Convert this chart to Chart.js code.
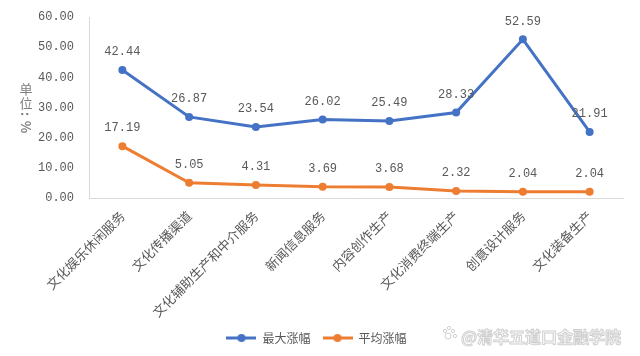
<!DOCTYPE html>
<html><head><meta charset="utf-8">
<script src="https://cdn.jsdelivr.net/npm/chart.js@4"></script>
<style>html,body{margin:0;padding:0;background:#fff}#wrap{width:640px;height:356px}</style>
</head><body><div id="wrap"><canvas id="c" width="640" height="356"></canvas></div>
<script>
const categories = ["文化娱乐休闲服务","文化传播渠道","文化辅助生产和中介服务","新闻信息服务","内容创作生产","文化消费终端生产","创意设计服务","文化装备生产"];
const maxRise = [42.44, 26.87, 23.54, 26.02, 25.49, 28.33, 52.59, 21.91];
const avgRise = [17.19, 5.05, 4.31, 3.69, 3.68, 2.32, 2.04, 2.04];
const seriesNames = ["最大涨幅","平均涨幅"];
const yTicks = [0, 10, 20, 30, 40, 50, 60];

const BLUE = "#4472C4", ORANGE = "#ED7D31", TXT = "#595959";
const NUMFONT = "'Liberation Mono', monospace";
const CJK = "'Noto Sans CJK SC', sans-serif";

function legendIcon(color) {
  const cv = document.createElement('canvas');
  cv.width = 30; cv.height = 10;
  const g = cv.getContext('2d');
  g.strokeStyle = color; g.lineWidth = 3;
  g.beginPath(); g.moveTo(0, 5); g.lineTo(30, 5); g.stroke();
  g.fillStyle = color; g.beginPath(); g.arc(15, 5, 4, 0, Math.PI * 2); g.fill();
  return cv;
}

const labelPlugin = {
  id: 'pointLabels',
  afterDatasetsDraw(chart) {
    const ctx = chart.ctx;
    ctx.save();
    ctx.font = "12px " + NUMFONT;
    ctx.fillStyle = TXT;
    ctx.textAlign = 'center';
    ctx.textBaseline = 'middle';
    chart.data.datasets.forEach((ds, i) => {
      chart.getDatasetMeta(i).data.forEach((pt, j) => {
        ctx.fillText(ds.data[j].toFixed(2), pt.x, pt.y - 18);
      });
    });
    ctx.restore();
  }
};

const extrasPlugin = {
  id: 'extras',
  afterDraw(chart) {
    const ctx = chart.ctx;
    ctx.save();
    ctx.fillStyle = "#7f7f7f";
    ctx.font = "13px " + CJK;
    ctx.textAlign = 'center'; ctx.textBaseline = 'middle';
    ctx.fillText("单", 26, 89);
    ctx.fillText("位", 26, 103);
    ctx.font = "bold 13px " + CJK;
    [[":", 114], ["%", 127]].forEach(([t, y]) => {
      ctx.save(); ctx.translate(26, y); ctx.rotate(Math.PI / 2);
      ctx.fillText(t, 0, 0); ctx.restore();
    });
    ctx.font = "bold 16px " + CJK;
    ctx.textAlign = 'left';
    ctx.lineWidth = 1;
    ctx.strokeStyle = "#cfcfcf";
    ctx.fillStyle = "#ffffff";
    ctx.fillText("@清华五道口金融学院", 461, 337);
    ctx.strokeText("@清华五道口金融学院", 461, 337);
    [[448, 336, 3], [453, 331, 1.6], [445, 331, 1.6], [449, 328, 1.6], [455, 336, 1.6]].forEach(([x, y, r]) => {
      ctx.beginPath(); ctx.arc(x, y, r, 0, Math.PI * 2); ctx.stroke();
    });
    ctx.restore();
  }
};

new Chart(document.getElementById('c'), {
  type: 'line',
  data: {
    labels: categories,
    datasets: [
      { label: seriesNames[0], data: maxRise, borderColor: BLUE, backgroundColor: BLUE, borderWidth: 3, pointRadius: 4, pointBackgroundColor: BLUE, pointBorderWidth: 0, tension: 0 },
      { label: seriesNames[1], data: avgRise, borderColor: ORANGE, backgroundColor: ORANGE, borderWidth: 3, pointRadius: 4, pointBackgroundColor: ORANGE, pointBorderWidth: 0, tension: 0 }
    ]
  },
  options: {
    responsive: false,
    animation: false,
    devicePixelRatio: 1,
    layout: { padding: { left: 10, right: 17, top: 17, bottom: 2 } },
    plugins: {
      tooltip: { enabled: false },
      legend: {
        position: 'bottom',
        labels: {
          usePointStyle: true,
          pointStyleWidth: 30,
          boxHeight: 10,
          padding: 12,
          color: TXT,
          font: { family: CJK, size: 12 },
          generateLabels(chart) {
            return chart.data.datasets.map((ds, i) => ({
              text: ds.label, fillStyle: ds.borderColor, strokeStyle: ds.borderColor,
              pointStyle: legendIcon(ds.borderColor), datasetIndex: i, hidden: false, lineWidth: 0, fontColor: TXT
            }));
          }
        }
      }
    },
    scales: {
      x: {
        offset: true,
        grid: { display: false },
        border: { display: true, color: '#d9d9d9', width: 1 },
        ticks: { color: TXT, font: { family: CJK, size: 13 }, minRotation: 45, maxRotation: 45, autoSkip: false, padding: 2 },
        afterFit(scale) { scale.height = 122; scale.paddingTop = 0; scale.paddingBottom = 0; scale.paddingLeft = 0; scale.paddingRight = 0; }
      },
      y: {
        min: 0, max: 60,
        afterBuildTicks(scale) { scale.ticks = yTicks.map(v => ({ value: v })); },
        grid: { display: false, drawTicks: false },
        border: { display: true, color: '#d9d9d9', width: 1 },
        ticks: { color: TXT, font: { family: NUMFONT, size: 12 }, padding: 15, callback: v => Number(v).toFixed(2) },
        afterFit(scale) { scale.width = 79; scale.paddingTop = 0; scale.paddingBottom = 0; }
      }
    }
  },
  plugins: [labelPlugin, extrasPlugin]
});
</script></body></html>
